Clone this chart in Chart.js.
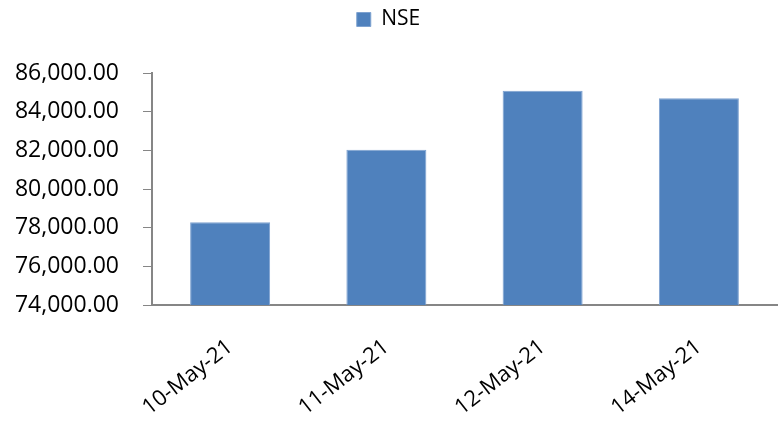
<!DOCTYPE html>
<html>
<head>
<meta charset="utf-8">
<script src="https://cdn.jsdelivr.net/npm/chart.js@4/dist/chart.umd.min.js"></script>
<style>
  html, body { margin: 0; padding: 0; background: #fff; }
  #wrap { width: 781px; height: 426px; position: relative; }
</style>
</head>
<body>
<div id="wrap"><canvas id="chart"></canvas></div>
<script>
// NSE values by trading day
const categories = ['10-May-21', '11-May-21', '12-May-21', '14-May-21'];
const nseValues = [78280, 82030, 85080, 84700];
const seriesLabel = 'NSE';
const yMin = 74000, yMax = 86000, yStep = 2000;

const axisGray = '#868686';
const fontFamily = "'Open Sans', 'Liberation Sans', sans-serif";
const fmt = new Intl.NumberFormat('en-US', { minimumFractionDigits: 2, maximumFractionDigits: 2 });

// legend sits near the top, with a wide gap below it before the plot
const legendGap = 33;
const legendSpacer = {
  id: 'legendSpacer',
  afterInit(chart){
    const lg = chart.legend;
    if (!lg) return;
    const fit = lg.fit.bind(lg);
    lg.fit = function(){ fit(); this.height += legendGap; };
  }
};

const ctx = document.getElementById('chart').getContext('2d');
new Chart(ctx, {
  type: 'bar',
  data: {
    labels: categories,
    datasets: [{
      label: seriesLabel,
      data: nseValues,
      backgroundColor: '#4f81bd',
      borderColor: '#7ea2d0',
      borderWidth: 1,
      categoryPercentage: 1,
      barPercentage: 0.512
    }]
  },
  plugins: [legendSpacer],
  options: {
    responsive: true,
    maintainAspectRatio: false,
    animation: false,
    layout: { padding: { top: 0, right: 4, left: 0, bottom: 0 } },
    plugins: {
      tooltip: { enabled: false },
      legend: {
        position: 'top',
        labels: {
          color: '#000',
          font: { family: fontFamily, size: 21 },
          boxWidth: 14, boxHeight: 14,
          padding: 9
        }
      }
    },
    scales: {
      x: {
        grid: { display: false, drawTicks: false },
        border: { display: true, color: axisGray, width: 2 },
        ticks: {
          color: '#000',
          font: { family: fontFamily, size: 22 },
          minRotation: 38, maxRotation: 38,
          padding: 29
        },
        afterFit: s => { s.height = 121; }
      },
      y: {
        min: yMin, max: yMax,
        grid: { drawOnChartArea: false, drawTicks: true, tickLength: 9, color: axisGray, lineWidth: 1 },
        border: { display: true, color: axisGray, width: 2 },
        ticks: {
          stepSize: yStep,
          color: '#000',
          font: { family: fontFamily, size: 23 },
          padding: 24,
          callback: v => fmt.format(v)
        },
        afterFit: s => { s.width = 152; }
      }
    }
  }
});
</script>
</body>
</html>
